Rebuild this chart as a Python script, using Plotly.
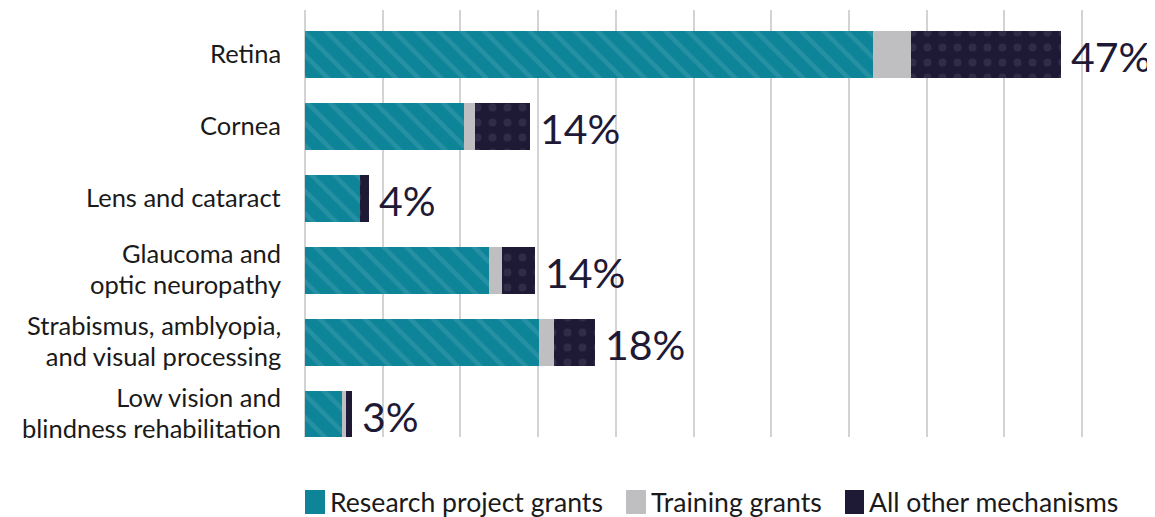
import plotly.graph_objects as go

# Data (x values in gridline units; each gridline = 1 unit)
categories = ["Retina", "Cornea", "Lens and cataract", "Glaucoma and<br>optic neuropathy",
              "Strabismus, amblyopia,<br>and visual processing", "Low vision and<br>blindness rehabilitation"]
research = [7.31, 2.05, 0.71, 2.37, 3.01, 0.48]
training = [0.49, 0.14, 0.00, 0.17, 0.19, 0.05]
other = [1.93, 0.71, 0.11, 0.42, 0.53, 0.08]
pct_labels = ["47%", "14%", "4%", "14%", "18%", "3%"]
series_names = ["Research project grants", "Training grants", "All other mechanisms"]

TEAL = "#0e8499"
TEAL_STRIPE = "#3c9dad"
GRAY = "#bfbfc1"
NAVY = "#1e1a36"
NAVY_DOT = "#423e58"
TEXT = "#1a1a1a"
FONT = "Lato"

# page offset: html body has 8px margin
W, H = 1147, 509
ML, MR, MT, MB = 297, 34, 2, 80
PW = W - ML - MR
PH = H - MT - MB

fig = go.Figure()
fig.add_trace(go.Bar(
    y=categories, x=research, orientation="h", name=series_names[0],
    marker=dict(color=TEAL, line=dict(width=0),
                pattern=dict(shape="\\", fgcolor=TEAL_STRIPE, bgcolor=TEAL, size=16, solidity=0.28)),
    width=0.65,
))
fig.add_trace(go.Bar(
    y=categories, x=training, orientation="h", name=series_names[1],
    marker=dict(color=GRAY, line=dict(width=0)), width=0.65,
))
fig.add_trace(go.Bar(
    y=categories, x=other, orientation="h", name=series_names[2],
    marker=dict(color=NAVY, line=dict(width=0),
                pattern=dict(shape=".", fgcolor=NAVY_DOT, bgcolor=NAVY, size=15, solidity=0.22)),
    width=0.65,
))

totals = [r + t + o for r, t, o in zip(research, training, other)]
for cat, tot, lab in zip(categories, totals, pct_labels):
    fig.add_annotation(x=tot, y=cat, text=lab, showarrow=False, xanchor="left",
                       xshift=8, yshift=-2, font=dict(family=FONT, size=41, color=NAVY))

# category labels: line spacing set by base font, glyph size via span style
LABEL_PX = 25.5
BASE_PX = 23.7
for cat in categories:
    lines = cat.split("<br>")
    txt = "<br>".join(f"<span style='font-size:{LABEL_PX}px'>{ln}</span>" for ln in lines)
    fig.add_annotation(x=0, xref="paper", y=cat, yref="y", text=txt, showarrow=False,
                       xanchor="right", align="right", xshift=-22, yshift=2,
                       font=dict(family=FONT, size=BASE_PX, color=TEXT))

# manual legend (page pixel positions converted to paper coords)
def px(x):
    return (x - 8 - ML) / PW

def py(y):
    return (H - MB - (y - 8)) / PH

legend_items = [(305, 325, 330, TEAL), (626, 646, 651, GRAY), (845, 864, 869, NAVY)]
for (sx0, sx1, tx, col), name in zip(legend_items, series_names):
    fig.add_shape(type="rect", xref="paper", yref="paper", x0=px(sx0), x1=px(sx1),
                  y0=py(514), y1=py(490), fillcolor=col, line=dict(width=0))
    fig.add_annotation(x=px(tx), xref="paper", y=py(502), yref="paper", text=name,
                       showarrow=False, xanchor="left", yanchor="middle", xshift=-2,
                       font=dict(family=FONT, size=26.6, color=TEXT))

fig.update_layout(
    barmode="stack",
    width=W, height=H,
    margin=dict(l=ML, r=MR, t=MT, b=MB),
    paper_bgcolor="white", plot_bgcolor="white",
    font=dict(family=FONT, color=TEXT),
    showlegend=False,
)
fig.update_xaxes(range=[0, 10.5], dtick=1, tick0=0, showgrid=True, gridcolor="#d3d3d3", gridwidth=1.5,
                 zeroline=True, zerolinecolor="#d3d3d3", zerolinewidth=1.5,
                 showticklabels=False, showline=False, fixedrange=True)
fig.update_yaxes(range=[5.3125, -0.618], showgrid=False, showline=False, ticks="",
                 showticklabels=False)

fig.write_html("out.html")
